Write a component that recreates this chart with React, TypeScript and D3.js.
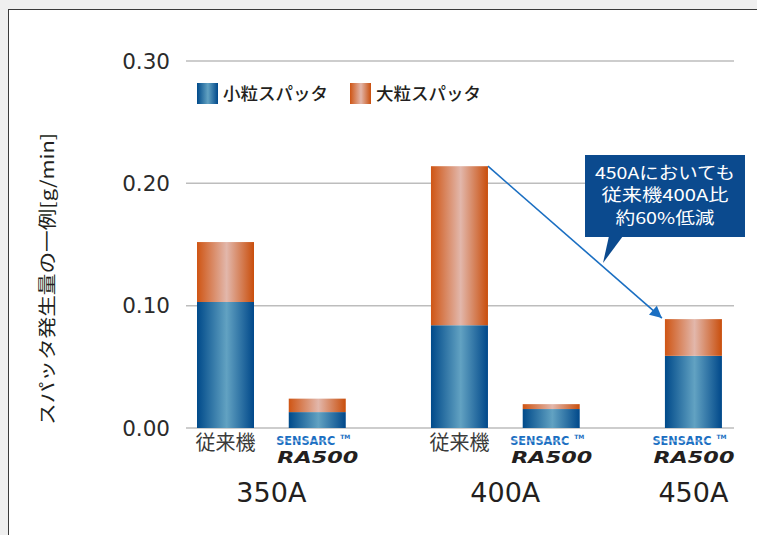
import * as d3 from "d3";
import React from "react";

// 量（g/min）
const groups = ["350A", "400A", "450A"];
const groupMachines = [["従来機", "RA500"], ["従来機", "RA500"], ["RA500"]];
const smallSpatter = [0.103, 0.013, 0.084, 0.0155, 0.059];
const largeSpatter = [0.049, 0.011, 0.130, 0.004, 0.030];
const yTicks = [0, 0.1, 0.2, 0.3];
const legendLabels = ["小粒スパッタ", "大粒スパッタ"];
const calloutLines = ["450Aにおいても", "従来機400A比", "約60%低減"];
const yTitle = "スパッタ発生量の一例[g/min]";

const W = 757;
const H = 535;
const GROUP_GAP = 0.55;
const JP = "'Noto Sans CJK JP', sans-serif";
const LATIN = "'DejaVu Sans', sans-serif";
const calloutWidths = [140, 127, 99];

// スロット位置を計算
const slots: { group: number; machine: string; pos: number }[] = [];
let cursor = 0;
groupMachines.forEach((ms, gi) => {
  ms.forEach((m) => {
    slots.push({ group: gi, machine: m, pos: cursor });
    cursor += 1;
  });
  cursor += GROUP_GAP;
});

const x = d3.scaleLinear().domain([0, 1]).range([225.5, 317.25]);
const y = d3.scaleLinear().domain([0, 0.3]).range([428, 61]);
const barW = 57;
const gridX0 = 186;
const gridX1 = 734;

const Logo: React.FC<{ cx: number; top: number }> = ({ cx, top }) => (
  <g>
    <text x={cx - 41} y={top + 9} fontFamily={LATIN} fontWeight="bold" fontSize={12.5}
      fill="#1b6fc2" textLength={59} lengthAdjust="spacingAndGlyphs">SENSARC</text>
    <line x1={cx - 41} x2={cx + 18} y1={top + 5} y2={top + 5} stroke="#fff" strokeWidth={0.7} />
    <text x={cx + 23} y={top + 3} fontFamily={LATIN} fontWeight="bold" fontSize={6} fill="#1b6fc2">TM</text>
    <text x={cx - 40} y={top + 27} fontFamily={LATIN} fontWeight="bold" fontStyle="italic"
      fontSize={15} fill="#231f20" textLength={81} lengthAdjust="spacingAndGlyphs">RA500</text>
  </g>
);

export default function App() {
  const totals = smallSpatter.map((s, i) => s + largeSpatter[i]);
  const arrowStart = { x: x(slots[2].pos) + barW / 2, y: y(totals[2]) };
  const arrowEnd = { x: x(slots[4].pos) - barW / 2 - 3, y: y(totals[4]) - 1 };

  return (
    <svg width={W} height={H} style={{ position: "absolute", left: 0, top: 0 }}>
      <defs>
        <linearGradient id="gBlue" x1="0" x2="1" y1="0" y2="0">
          <stop offset="0" stopColor="#004a8a" />
          <stop offset="0.52" stopColor="#62a2c2" />
          <stop offset="1" stopColor="#00488a" />
        </linearGradient>
        <linearGradient id="gOrange" x1="0" x2="1" y1="0" y2="0">
          <stop offset="0" stopColor="#cf5514" />
          <stop offset="0.52" stopColor="#e2b7ab" />
          <stop offset="1" stopColor="#c94e0c" />
        </linearGradient>
        <marker id="arrowHeadBig" viewBox="0 0 10 10" refX="10" refY="5" markerWidth="14" markerHeight="12"
          markerUnits="userSpaceOnUse" orient="auto">
          <path d="M0,0 L10,5 L0,10 z" fill="#1b6fc2" />
        </marker>
      </defs>
      <rect x={0} y={0} width={W} height={H} fill="#efefef" />
      <rect x={8.5} y={9.5} width={W} height={H} fill="#fff" stroke="#3a3a3a" strokeWidth={1} />

      {/* グリッド */}
      {yTicks.map((t) => (
        <g key={t}>
          <line x1={gridX0} x2={gridX1} y1={y(t)} y2={y(t)} stroke="#bdbdbd" strokeWidth={1.5} />
          <text x={170} y={y(t)} dy="0.36em" textAnchor="end" fontFamily={LATIN} fontSize={21.5}
            fill="#2b2b2b">{t.toFixed(2)}</text>
        </g>
      ))}

      <text transform={`translate(48,${279}) rotate(-90)`} textAnchor="middle" dy="0.35em"
        fontFamily={JP} fontSize={18} fill="#231f20" textLength={292} lengthAdjust="spacingAndGlyphs">{yTitle}</text>

      {/* 棒 */}
      {slots.map((s, i) => {
        const cx = x(s.pos);
        return (
          <g key={i}>
            <rect x={cx - barW / 2} y={y(smallSpatter[i])} width={barW}
              height={y(0) - y(smallSpatter[i])} fill="url(#gBlue)" />
            <rect x={cx - barW / 2} y={y(totals[i])} width={barW}
              height={y(smallSpatter[i]) - y(totals[i])} fill="url(#gOrange)" />
            {s.machine === "従来機" ? (
              <text x={cx} y={443} dy="0.36em" textAnchor="middle" fontFamily={JP} fontSize={20}
                fill="#3a3a3a">{s.machine}</text>
            ) : (
              <Logo cx={cx} top={436} />
            )}
          </g>
        );
      })}

      {groups.map((g, gi) => {
        const members = slots.filter((s) => s.group === gi);
        const cx = d3.mean(members, (s) => x(s.pos)) as number;
        return (
          <text key={g} x={cx} y={492} dy="0.36em" textAnchor="middle" fontFamily={LATIN} fontSize={27}
            fill="#231f20">{g}</text>
        );
      })}

      {/* 凡例 */}
      {legendLabels.map((l, i) => {
        const lx = i === 0 ? 197 : 350;
        return (
          <g key={l}>
            <rect x={lx} y={83} width={21} height={21} fill={i === 0 ? "url(#gBlue)" : "url(#gOrange)"} />
            <text x={lx + 26} y={93.5} dy="0.36em" fontFamily={JP} fontWeight={500} fontSize={17.5}
              fill="#231f20" textLength={105} lengthAdjust="spacingAndGlyphs">{l}</text>
          </g>
        );
      })}

      {/* 矢印 */}
      <line x1={arrowStart.x} y1={arrowStart.y} x2={arrowEnd.x} y2={arrowEnd.y} stroke="#1b6fc2"
        strokeWidth={1.6} markerEnd="url(#arrowHeadBig)" />

      {/* 吹き出し */}
      <g>
        <rect x={585} y={155} width={160} height={82} fill="#0b4a8e" />
        <path d="M609,236 L623,236 L603,263 Z" fill="#0b4a8e" />
        {calloutLines.map((t, i) => (
          <text key={t} x={665 - calloutWidths[i] / 2} y={173 + i * 22.5} dy="0.36em" fontFamily={JP}
            fontSize={16.5} fill="#fff" textLength={calloutWidths[i]} lengthAdjust="spacingAndGlyphs">{t}</text>
        ))}
      </g>
    </svg>
  );
}
